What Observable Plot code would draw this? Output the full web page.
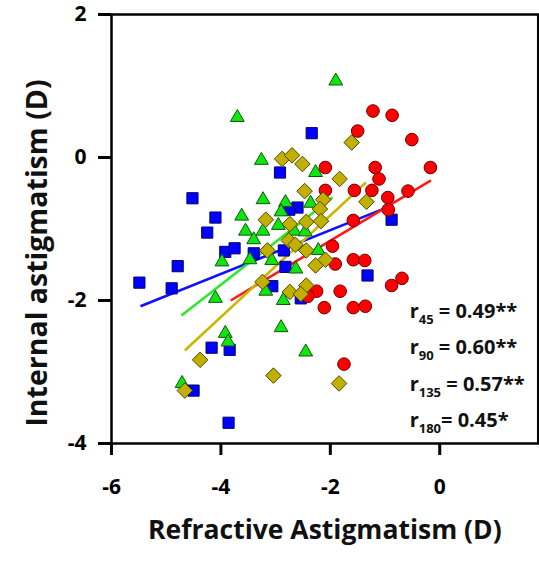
<!DOCTYPE html>
<html>
<head>
<meta charset="utf-8">
<script src="https://cdn.jsdelivr.net/npm/d3@7"></script>
<script src="https://cdn.jsdelivr.net/npm/@observablehq/plot@0.6"></script>
<style>
  html, body { margin: 0; padding: 0; background: #fff; }
</style>
</head>
<body>
<div id="chart"></div>
<script>
// Axis ticks (dioptres)
const xTicks = [-6, -4, -2, 0];
const yTicks = [-4, -2, 0, 2];

// Refractive (x) vs internal (y) astigmatism, one pair of arrays per meridian group
const m45x = [-2.34, -2.92, -4.52, -4.10, -4.25, -3.92, -3.75, -4.79, -5.49, -4.90, -3.40, -2.82,
              -3.06, -4.17, -3.84, -4.50, -3.86, -0.88, -1.32, -2.60, -2.75, -2.54, -2.85];
const m45y = [0.34, -0.21, -0.57, -0.84, -1.05, -1.32, -1.27, -1.52, -1.75, -1.83, -1.34, -1.53,
              -1.80, -2.66, -2.69, -3.26, -3.71, -0.87, -1.65, -0.70, -0.73, -1.97, -1.30];

const m90x = [-3.70, -1.90, -3.26, -2.27, -3.23, -2.82, -2.36, -3.62, -2.90, -3.55, -3.23, -2.95, -2.66, -2.46,
              -3.40, -3.98, -3.47, -3.07, -2.63, -2.22, -4.10, -3.18, -2.86, -2.90, -3.92, -3.87, -2.45, -4.71];
const m90y = [0.56, 1.07, -0.04, -0.21, -0.59, -0.63, -0.64, -0.82, -0.76, -1.03, -1.03, -0.95, -1.03, -1.04,
              -1.15, -1.46, -1.43, -1.44, -1.56, -1.30, -1.97, -1.87, -2.00, -2.38, -2.46, -2.58, -2.72, -3.16];

const m135x = [-2.88, -2.70, -2.51, -1.61, -1.83, -2.47, -2.13, -2.19, -1.34, -3.18, -2.74, -2.44, -2.17, -2.76,
               -2.64, -2.44, -3.15, -2.09, -2.27, -3.24, -2.44, -2.74, -2.54, -4.38, -3.04, -4.66, -1.84];
const m135y = [-0.02, 0.03, -0.09, 0.21, -0.30, -0.47, -0.59, -0.72, -0.62, -0.87, -0.93, -0.90, -0.89, -1.16,
               -1.22, -1.30, -1.30, -1.43, -1.51, -1.74, -1.79, -1.88, -1.91, -2.83, -3.05, -3.26, -3.16];

const m180x = [-1.22, -0.87, -1.50, -0.51, -2.09, -1.18, -0.17, -1.11, -2.09, -1.56, -1.24, -0.58, -0.95, -0.94,
               -1.58, -1.96, -1.91, -1.58, -1.37, -0.88, -0.69, -1.82, -2.25, -2.41, -2.11, -1.58, -1.36, -1.75];
const m180y = [0.65, 0.59, 0.37, 0.25, -0.14, -0.14, -0.14, -0.30, -0.46, -0.46, -0.46, -0.47, -0.56, -0.73,
               -0.88, -1.24, -1.49, -1.43, -1.44, -1.79, -1.69, -1.87, -1.87, -1.94, -2.10, -2.10, -2.08, -2.89];

// Least-squares fit segments per group: [x start, y start, x end, y end]
const fit45 = [-5.47, -2.08, -0.87, -0.67];
const fit90 = [-4.72, -2.21, -1.96, -0.56];
const fit135 = [-4.66, -2.70, -1.35, -0.35];
const fit180 = [-3.82, -2.00, -0.16, -0.32];

// Correlation coefficients per meridian
const corrMeridian = ["45", "90", "135", "180"];
const corrValue = [" = 0.49**", " = 0.60**", " = 0.57**", "= 0.45*"];

const xTitle = "Refractive Astigmatism (D)";
const yTitle = "Internal astigmatism (D)";

// Marker and line styling per group
const groups = [
  {xs: m45x, ys: m45y, fit: fit45, symbol: "square", r: 6.3, fill: "#0000ff", stroke: "#00006e", line: "#1010ff"},
  {xs: m90x, ys: m90y, fit: fit90, symbol: "triangle2", r: 6.6, fill: "#11e411", stroke: "#0a5a0a", line: "#2ee82e"},
  {xs: m180x, ys: m180y, fit: fit180, symbol: "circle", r: 6.3, fill: "#ff0000", stroke: "#6e0000", line: "#ff1a1a"},
  {xs: m135x, ys: m135y, fit: fit135, symbol: "diamond2", r: 7, fill: "#c2b000", stroke: "#4d4600", line: "#c9b700"}
];

const pointsOf = g => g.xs.map((x, i) => ({x, y: g.ys[i]}));
const segmentOf = g => [{x1: g.fit[0], y1: g.fit[1], x2: g.fit[2], y2: g.fit[3]}];

const corrRows = corrMeridian.map((m, i) => ({m, v: corrValue[i], i}));
const corrX = -0.55, corrTop = -2.15, corrStep = 0.51;

const chart = Plot.plot({
  width: 539,
  height: 564,
  marginLeft: 111,
  marginRight: 1.3,
  marginTop: 14,
  marginBottom: 121,
  x: {domain: [-6, 1.8]},
  y: {domain: [-4, 2]},
  style: {
    fontFamily: "'Open Sans', 'DejaVu Sans', sans-serif",
    fontWeight: "bold",
    fontSize: "21px",
    color: "black",
    background: "white",
    overflow: "visible"
  },
  marks: [
    Plot.axisX({ticks: xTicks, tickSize: 12, tickPadding: 24, strokeWidth: 3, tickFormat: d => String(d), label: null, fontSize: 21}),
    Plot.axisY({ticks: yTicks, tickSize: 13, tickPadding: 12, strokeWidth: 3, tickFormat: d => String(d), label: null, fontSize: 21}),
    Plot.frame({stroke: "black", strokeWidth: 2.5}),
    ...groups.map(g => Plot.link(segmentOf(g), {x1: "x1", y1: "y1", x2: "x2", y2: "y2", stroke: g.line, strokeWidth: 2.6})),
    ...groups.map(g => Plot.dot(pointsOf(g), {x: "x", y: "y", symbol: g.symbol, r: g.r, fill: g.fill, stroke: g.stroke, strokeWidth: 1})),
    Plot.text(corrRows, {
      x: () => corrX,
      y: d => corrTop - d.i * corrStep,
      text: d => "r" + d.m + d.v,
      textAnchor: "start",
      fontSize: 20,
      fill: "#111"
    }),
    Plot.text([xTitle], {text: d => d, frameAnchor: "bottom", textAnchor: "middle", lineAnchor: "middle", dy: 87, fontSize: 26.5, fill: "#111"}),
    Plot.text([yTitle], {text: d => d, frameAnchor: "left", textAnchor: "middle", lineAnchor: "middle", rotate: -90, dx: -74, dy: 24, fontSize: 28.5, fill: "#111"})
  ]
});

// Set the meridian number of each coefficient as a subscript
const corrTexts = d3.select(chart).selectAll("text").filter(function() {
  return /^r\d+\s?=/.test(this.textContent);
});
corrTexts.each(function(_, i) {
  const row = corrRows[i];
  const t = d3.select(this).text(null).style("white-space", "pre");
  t.append("tspan").text("r");
  t.append("tspan").attr("font-size", 13).attr("dy", 6).text(row.m);
  t.append("tspan").attr("dy", -6).text(row.v);
});

document.getElementById("chart").append(chart);
</script>
</body>
</html>
